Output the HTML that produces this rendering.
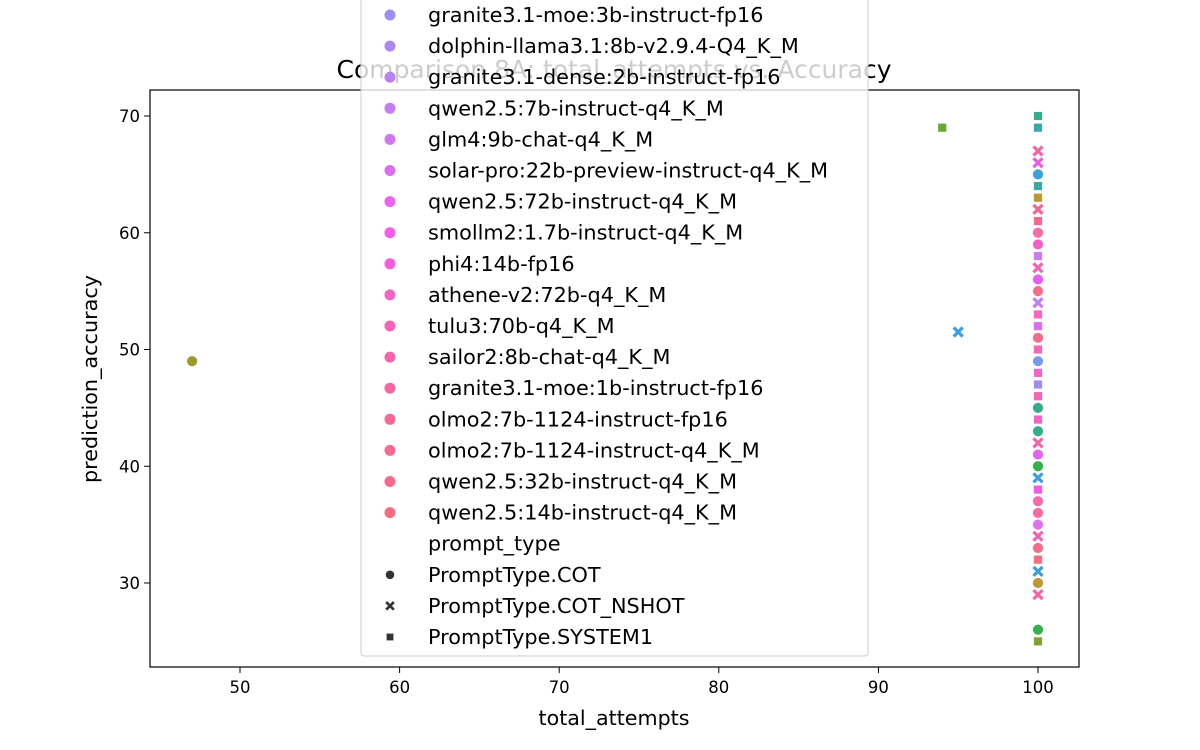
<!DOCTYPE html>
<html><head><meta charset="utf-8"><style>
html,body{margin:0;padding:0;background:#fff;}
svg{display:block;font-family:"DejaVu Sans","Liberation Sans",sans-serif;}
</style></head><body>
<svg id="chart" width="1200" height="750"></svg>
<script>
const xs=[47,94,95,100,100,100,100,100,100,100,100,100,100,100,100,100,100,100,100,100,100,100,100,100,100,100,100,100,100,100,100,100,100,100,100,100,100,100,100,100,100,100,100,100,100,100];
const ys=[49,69,51.5,70,69,67,66,65,64,63,62,61,60,59,58,57,56,55,54,53,52,51,50,49,48,47,46,45,44,43,42,41,40,39,38,37,36,35,34,33,32,31,30,29,26,25];
const shapes=['o','s','x','s','s','x','x','o','s','s','x','s','o','o','s','x','o','o','x','s','s','o','s','o','s','s','s','o','s','o','x','o','o','x','s','o','o','o','x','o','s','x','o','x','o','s'];
const colors=['#9a9a2a','#6aa836','#3a9ee0','#36ad8a','#38aaa5','#f564a0','#ee5ae0','#3ba3dc','#38aaa5','#bb9832','#f5648a','#f7688f','#f76aa8','#f55ec0','#c77cf0','#f564b0','#ec5bf0','#f66d8a','#c27df0','#f765c0','#db6df0','#f66d8a','#f766b8','#7a99f5','#f463c8','#9c8cf5','#f464b8','#36ad8a','#f464c0','#36ad8a','#f564a8','#e264f0','#33b24a','#3a9ee0','#f45ae8','#f66ba8','#f66ba0','#dd72f0','#f564b0','#f66d8a','#f66d80','#3a9ee0','#bb9832','#f564a8','#33b24a','#7fa32f'];
const xTicks=[50,60,70,80,90,100];
const yTicks=[30,40,50,60,70];
const legendLabels=['granite3.1-moe:3b-instruct-fp16','dolphin-llama3.1:8b-v2.9.4-Q4_K_M','granite3.1-dense:2b-instruct-fp16','qwen2.5:7b-instruct-q4_K_M','glm4:9b-chat-q4_K_M','solar-pro:22b-preview-instruct-q4_K_M','qwen2.5:72b-instruct-q4_K_M','smollm2:1.7b-instruct-q4_K_M','phi4:14b-fp16','athene-v2:72b-q4_K_M','tulu3:70b-q4_K_M','sailor2:8b-chat-q4_K_M','granite3.1-moe:1b-instruct-fp16','olmo2:7b-1124-instruct-fp16','olmo2:7b-1124-instruct-q4_K_M','qwen2.5:32b-instruct-q4_K_M','qwen2.5:14b-instruct-q4_K_M'];
const legendColors=['#9e8ef5','#ac88f3','#b983f2','#c57ef1','#d076f0','#dc6ef0','#ea62f2','#f45cec','#f55ed8','#f562c8','#f564ba','#f565ae','#f567a2','#f66898','#f66a90','#f66b88','#f66d80'];
const styleLabels=['PromptType.COT','PromptType.COT_NSHOT','PromptType.SYSTEM1'];
const styleShapes=['o','x','s'];

const NS='http://www.w3.org/2000/svg';
const svg=document.getElementById('chart');
const L=150,R=1079,T=90,B=667;
const sx=v=>240+(v-50)*(1038-240)/50;
const sy=v=>116+(70-v)*(583-116)/40;
function mk(tag,a,p){const e=document.createElementNS(NS,tag);for(const k in a)e.setAttribute(k,a[k]);(p||svg).appendChild(e);return e;}
function marker(s,x,y,c,g,sz){
  sz=sz||1;let e;
  if(s==='o'){e=mk('circle',{cx:x,cy:y,r:5.5*sz,fill:c,stroke:'#fff','stroke-width':0.8},g);}
  else if(s==='s'){e=mk('rect',{x:x-4.5*sz,y:y-4.5*sz,width:9*sz,height:9*sz,fill:c,stroke:'#fff','stroke-width':0.8},g);}
  else{e=mk('path',{d:`M${x-4.5*sz},${y-4.5*sz}L${x+4.5*sz},${y+4.5*sz}M${x+4.5*sz},${y-4.5*sz}L${x-4.5*sz},${y+4.5*sz}`,stroke:c,'stroke-width':3.2*sz,fill:'none'},g);}
  return e;
}
const title=mk('text',{x:614,y:78,'text-anchor':'middle','font-size':24.5,textLength:555,lengthAdjust:'spacingAndGlyphs',fill:'#000'});
title.textContent='Comparison 8A: total_attempts vs. Accuracy';


const frame=mk('rect',{x:L,y:T,width:R-L,height:B-T,fill:'none',stroke:'#000','stroke-width':1.2});


xTicks.forEach(t=>{
  mk('line',{x1:sx(t),x2:sx(t),y1:B,y2:B+6,stroke:'#000'});
  const tx=mk('text',{x:sx(t),y:B+26,'text-anchor':'middle','font-size':16.5});
  tx.textContent=t;
  
  
});
yTicks.forEach(t=>{
  mk('line',{x1:L-6,x2:L,y1:sy(t),y2:sy(t),stroke:'#000'});
  const tx=mk('text',{x:L-10,y:sy(t)+6,'text-anchor':'end','font-size':16.5});
  tx.textContent=t;
  
  
});
const xt=mk('text',{x:614,y:725,'text-anchor':'middle','font-size':20.5,textLength:151,lengthAdjust:'spacingAndGlyphs'});
xt.textContent='total_attempts';


const yt=mk('text',{x:97,y:379,'text-anchor':'middle','font-size':20.5,textLength:208,lengthAdjust:'spacingAndGlyphs',transform:'rotate(-90 97 379)'});
yt.textContent='prediction_accuracy';


const pg=mk('g',{});


xs.forEach((x,i)=>{
  if(ys[i]===undefined)return;
  const m=marker(shapes[i],sx(x),sy(ys[i]),colors[i],pg);
  
  
});
const lg=mk('g',{});


mk('rect',{x:361,y:-10,width:507,height:666,rx:3,fill:'#fff','fill-opacity':0.8,stroke:'#ccc'},lg);
const step=31.1;
let y0=15;
const lfs=20.8;
legendLabels.forEach((lab,i)=>{
  const y=y0+i*step;
  mk('circle',{cx:390,cy:y,r:5.5,fill:legendColors[i]},lg);
  const t=mk('text',{x:428,y:y+7,'font-size':lfs},lg);
  t.textContent=lab;
  
  
});
const hy=y0+legendLabels.length*step;
const ht=mk('text',{x:428,y:hy+7,'font-size':lfs},lg);
ht.textContent='prompt_type';


styleLabels.forEach((lab,i)=>{
  const y=hy+(i+1)*step;
  marker(styleShapes[i],390,y,'#333',lg,0.85);
  const t=mk('text',{x:428,y:y+7,'font-size':lfs},lg);
  t.textContent=lab;
  
  
});
</script>
</body></html>
